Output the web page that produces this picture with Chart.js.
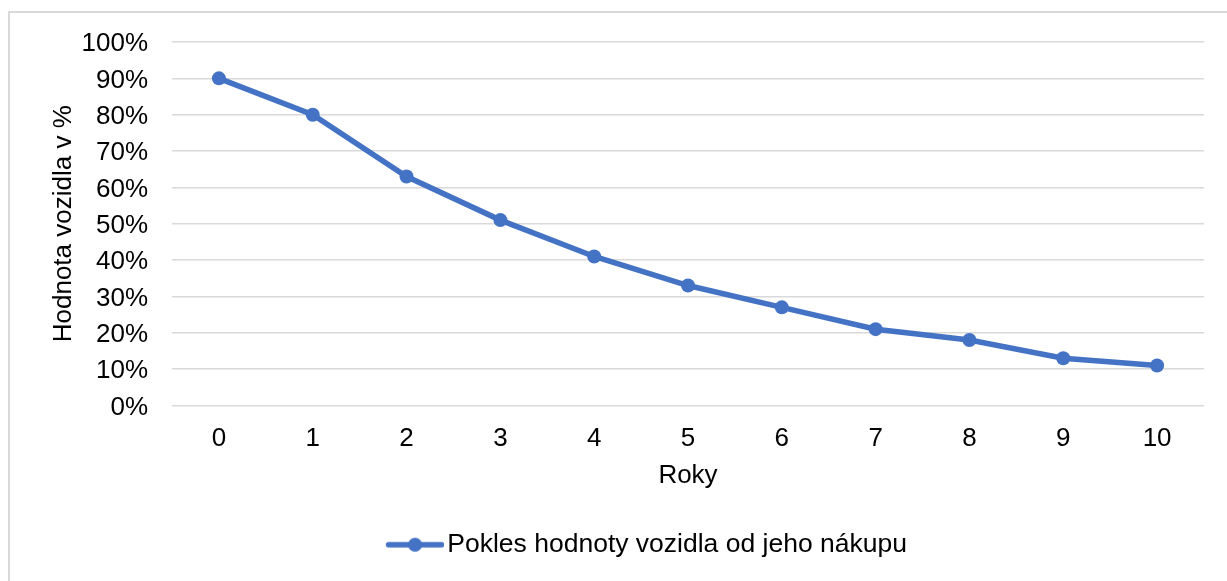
<!DOCTYPE html>
<html>
<head>
<meta charset="utf-8">
<script src="https://cdn.jsdelivr.net/npm/chart.js@4"></script>
<style>
  html, body { margin: 0; padding: 0; background: #fff; overflow: hidden; }
  #ramec { position: absolute; left: 8px; top: 11px; width: 1300px; height: 700px; border: 2px solid #d9d9d9; }
  #graf { position: absolute; left: 0; top: 0; }
</style>
</head>
<body>
<div id="ramec"></div>
<canvas id="graf" width="1227" height="581"></canvas>
<script>
// data
const roky = ['0', '1', '2', '3', '4', '5', '6', '7', '8', '9', '10'];
const hodnoty = [90, 80, 63, 51, 41, 33, 27, 21, 18, 13, 11];
const nazevRady = 'Pokles hodnoty vozidla od jeho nákupu';
const nazevX = 'Roky';
const nazevY = 'Hodnota vozidla v %';

// barvy
const barvaCary = '#4472C4';
const barvaMrizky = '#d9d9d9';
const barvaTextu = '#000000';
const pismo = { family: '"Liberation Sans", Arial, sans-serif', size: 26 };

// znacka do legendy: cara s teckou (vlevo prazdne misto, aby sedela k textu)
function znackaLegendy() {
    const c = document.createElement('canvas');
    c.width = 75; c.height = 16;
    const g = c.getContext('2d');
    g.strokeStyle = barvaCary;
    g.lineWidth = 5.5;
    g.lineCap = 'round';
    g.beginPath(); g.moveTo(19.5, 8); g.lineTo(72.5, 8); g.stroke();
    g.fillStyle = barvaCary;
    g.beginPath(); g.arc(46, 8, 7, 0, Math.PI * 2); g.fill();
    return c;
}
const znacka = znackaLegendy();

new Chart(document.getElementById('graf').getContext('2d'), {
    type: 'line',
    data: {
        labels: roky,
        datasets: [{
            label: nazevRady,
            data: hodnoty,
            borderColor: barvaCary,
            backgroundColor: barvaCary,
            borderWidth: 5.5,
            pointRadius: 7,
            pointHoverRadius: 7,
            pointBackgroundColor: barvaCary,
            pointBorderWidth: 0,
            fill: false,
            tension: 0
        }]
    },
    options: {
        responsive: false,
        animation: false,
        layout: { padding: { left: 82, right: 23, top: 42, bottom: 13 } },
        plugins: {
            tooltip: { enabled: false },
            legend: {
                position: 'bottom',
                labels: {
                    color: barvaTextu,
                    font: { family: pismo.family, size: 26.5 },
                    padding: 10,
                    usePointStyle: true,
                    pointStyleWidth: 55,
                    generateLabels: (chart) => chart.data.datasets.map((ds, i) => ({
                        text: ds.label,
                        pointStyle: znacka,
                        fillStyle: barvaCary,
                        strokeStyle: barvaCary,
                        lineWidth: 0,
                        datasetIndex: i
                    }))
                }
            }
        },
        scales: {
            x: {
                offset: true,
                grid: { display: false, drawTicks: false },
                border: { display: false },
                ticks: { color: barvaTextu, font: pismo, padding: 18 },
                title: { display: true, text: nazevX, color: barvaTextu, font: pismo, padding: { top: 0, bottom: 30 } },
                afterFit: (s) => { s.height = 116; }
            },
            y: {
                min: 0,
                max: 100,
                grid: { color: barvaMrizky, lineWidth: 1.5, drawTicks: false },
                border: { display: false },
                ticks: {
                    stepSize: 10,
                    color: barvaTextu,
                    font: pismo,
                    padding: 24,
                    labelOffset: 2,
                    callback: (v) => v + '%'
                },
                title: { display: true, text: nazevY, color: barvaTextu, font: pismo, padding: { top: -34, bottom: 0 } },
                afterFit: (s) => { s.width = 90; }
            }
        }
    }
});
</script>
</body>
</html>
